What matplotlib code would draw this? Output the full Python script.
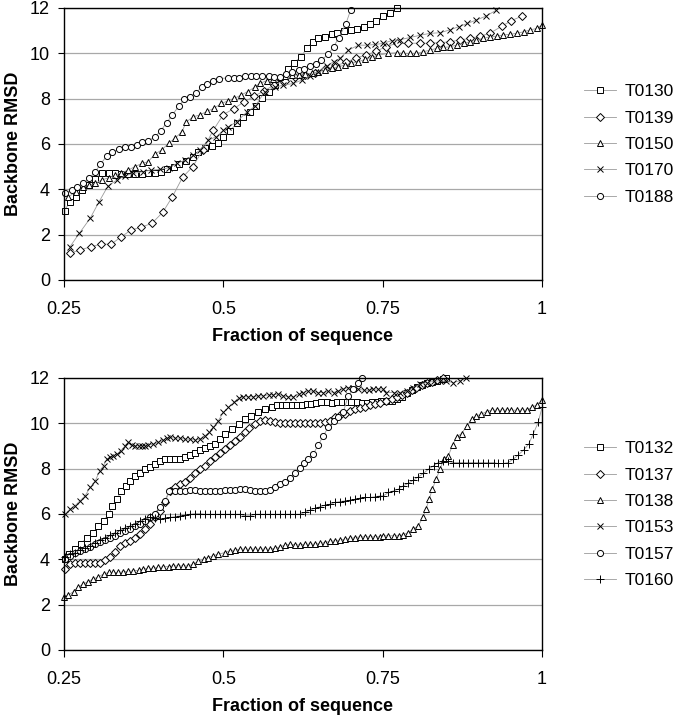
import matplotlib
matplotlib.use("Agg")
import matplotlib.pyplot as plt

plt.rcParams["font.family"] = ["Liberation Sans", "DejaVu Sans"]

# ---- top panel data (fraction of sequence, backbone RMSD) ----
t0130_x = [0.251, 0.259, 0.269, 0.279, 0.289, 0.299, 0.309, 0.320, 0.330, 0.340,
           0.351, 0.361, 0.372, 0.382, 0.392, 0.402, 0.411, 0.422, 0.431, 0.441,
           0.452, 0.461, 0.471, 0.482, 0.491, 0.500, 0.510, 0.521, 0.531, 0.542,
           0.551, 0.560, 0.571, 0.581, 0.590, 0.601, 0.611, 0.622, 0.631, 0.640,
           0.649, 0.659, 0.670, 0.679, 0.690, 0.700, 0.709, 0.720, 0.730, 0.740,
           0.751, 0.761, 0.772]
t0130_y = [3.06, 3.45, 3.67, 3.97, 4.2, 4.45, 4.73, 4.73, 4.7, 4.67,
           4.67, 4.67, 4.67, 4.7, 4.73, 4.78, 4.88, 5.0, 5.1, 5.26,
           5.44, 5.66, 5.84, 5.91, 6.06, 6.29, 6.57, 6.91, 7.2, 7.42,
           7.67, 8.01, 8.31, 8.6, 8.9, 9.29, 9.59, 9.85, 10.22, 10.51,
           10.66, 10.73, 10.84, 10.91, 10.98, 11.03, 11.06, 11.17, 11.29, 11.44,
           11.64, 11.8, 11.98]

t0139_x = [0.259, 0.275, 0.292, 0.308, 0.324, 0.339, 0.355, 0.371, 0.388, 0.405,
           0.420, 0.436, 0.452, 0.468, 0.484, 0.500, 0.516, 0.532, 0.548, 0.564,
           0.580, 0.596, 0.612, 0.628, 0.644, 0.660, 0.676, 0.692, 0.708, 0.724,
           0.740, 0.756, 0.772, 0.790, 0.808, 0.824, 0.840, 0.856, 0.871, 0.887,
           0.903, 0.918, 0.937, 0.952, 0.968]
t0139_y = [1.18, 1.32, 1.47, 1.58, 1.58, 1.89, 2.2, 2.33, 2.5, 2.99,
           3.67, 4.53, 5.0, 5.75, 6.6, 7.3, 7.55, 7.85, 8.1, 8.35,
           8.6, 8.8, 8.95, 9.05, 9.15, 9.3, 9.45, 9.6, 9.8, 9.92,
           10.1, 10.3, 10.44, 10.44, 10.45, 10.44, 10.47, 10.51, 10.59, 10.66,
           10.76, 10.88, 11.2, 11.44, 11.64]

t0150_x = [0.257, 0.269, 0.280, 0.290, 0.299, 0.309, 0.320, 0.330, 0.340, 0.351,
           0.361, 0.372, 0.382, 0.393, 0.403, 0.414, 0.424, 0.435, 0.442, 0.453,
           0.463, 0.475, 0.485, 0.497, 0.507, 0.517, 0.528, 0.538, 0.549, 0.557,
           0.568, 0.578, 0.589, 0.597, 0.607, 0.618, 0.628, 0.639, 0.649, 0.660,
           0.670, 0.680, 0.691, 0.701, 0.712, 0.722, 0.733, 0.743, 0.759, 0.772,
           0.782, 0.793, 0.803, 0.814, 0.824, 0.835, 0.845, 0.856, 0.866, 0.877,
           0.887, 0.897, 0.908, 0.918, 0.929, 0.939, 0.950, 0.960, 0.971, 0.981,
           0.992, 1.0]
t0150_y = [3.67, 3.9, 4.1, 4.19, 4.26, 4.41, 4.51, 4.63, 4.73, 4.85,
           5.0, 5.14, 5.22, 5.56, 5.73, 6.03, 6.25, 6.54, 6.98, 7.2,
           7.28, 7.45, 7.57, 7.79, 7.9, 8.01, 8.16, 8.31, 8.5, 8.67,
           8.79, 8.86, 8.94, 9.0, 9.04, 9.04, 9.09, 9.12, 9.19, 9.26,
           9.34, 9.41, 9.48, 9.56, 9.63, 9.73, 9.82, 9.92, 10.0, 10.03,
           10.0, 10.0, 10.0, 10.07, 10.14, 10.22, 10.26, 10.29, 10.36, 10.44,
           10.51, 10.59, 10.66, 10.73, 10.76, 10.81, 10.84, 10.88, 10.95, 11.03,
           11.1, 11.25]

t0170_x = [0.259, 0.274, 0.291, 0.305, 0.319, 0.333, 0.346, 0.359, 0.374, 0.387,
           0.401, 0.414, 0.427, 0.440, 0.453, 0.463, 0.476, 0.489, 0.500, 0.508,
           0.521, 0.537, 0.550, 0.565, 0.581, 0.594, 0.610, 0.623, 0.636, 0.649,
           0.662, 0.673, 0.683, 0.696, 0.712, 0.725, 0.738, 0.751, 0.764, 0.777,
           0.793, 0.809, 0.824, 0.840, 0.855, 0.869, 0.883, 0.897, 0.912, 0.928]
t0170_y = [1.45, 2.06, 2.72, 3.45, 4.15, 4.41, 4.6, 4.7, 4.78, 4.85,
           4.88, 4.95, 5.14, 5.29, 5.51, 5.73, 6.17, 6.32, 6.6, 6.76,
           6.98, 7.42, 7.67, 8.31, 8.5, 8.6, 8.67, 8.82, 9.0, 9.19,
           9.44, 9.63, 9.78, 10.14, 10.36, 10.36, 10.39, 10.44, 10.56, 10.6,
           10.7, 10.8, 10.88, 10.91, 11.03, 11.17, 11.32, 11.47, 11.64, 11.9]

t0188_x = [0.2515, 0.262, 0.271, 0.280, 0.290, 0.299, 0.307, 0.317, 0.326, 0.336,
           0.346, 0.355, 0.364, 0.373, 0.382, 0.393, 0.402, 0.411, 0.420, 0.430,
           0.439, 0.448, 0.457, 0.466, 0.475, 0.484, 0.493, 0.507, 0.516, 0.525,
           0.534, 0.543, 0.552, 0.561, 0.571, 0.580, 0.589, 0.598, 0.608, 0.618,
           0.627, 0.636, 0.645, 0.654, 0.664, 0.673, 0.681, 0.692, 0.700]
t0188_y = [3.85, 3.97, 4.1, 4.26, 4.48, 4.78, 5.1, 5.47, 5.66, 5.76,
           5.85, 5.88, 5.95, 6.07, 6.14, 6.32, 6.59, 6.94, 7.28, 7.67,
           7.97, 8.09, 8.26, 8.5, 8.64, 8.78, 8.88, 8.92, 8.92, 8.92,
           9.0, 9.0, 9.0, 9.0, 9.0, 8.97, 8.97, 9.09, 9.17, 9.26,
           9.33, 9.45, 9.55, 9.7, 9.95, 10.28, 10.69, 11.28, 11.93]

# ---- bottom panel data ----
t0132_x = [0.2515, 0.258, 0.267, 0.276, 0.286, 0.296, 0.304, 0.312, 0.320, 0.326,
           0.333, 0.340, 0.347, 0.353, 0.361, 0.369, 0.377, 0.385, 0.393, 0.401,
           0.408, 0.416, 0.424, 0.432, 0.440, 0.448, 0.456, 0.463, 0.471, 0.479,
           0.487, 0.495, 0.503, 0.513, 0.524, 0.534, 0.544, 0.555, 0.565, 0.576,
           0.584, 0.592, 0.599, 0.607, 0.615, 0.623, 0.631, 0.638, 0.646, 0.654,
           0.662, 0.670, 0.678, 0.686, 0.694, 0.701, 0.709, 0.717, 0.725, 0.733,
           0.741, 0.748, 0.756, 0.764, 0.772, 0.780, 0.788, 0.796, 0.804, 0.812,
           0.820, 0.828, 0.836, 0.844, 0.850]
t0132_y = [4.01, 4.23, 4.45, 4.67, 4.96, 5.18, 5.48, 5.7, 5.99, 6.36,
           6.65, 7.02, 7.24, 7.46, 7.68, 7.83, 7.98, 8.08, 8.2, 8.32,
           8.42, 8.42, 8.42, 8.42, 8.52, 8.61, 8.7, 8.82, 8.91, 9.01,
           9.11, 9.3, 9.52, 9.74, 9.96, 10.18, 10.33, 10.48, 10.63, 10.7,
           10.82, 10.82, 10.82, 10.82, 10.82, 10.82, 10.85, 10.85, 10.88, 10.92,
           10.92, 10.88, 10.92, 10.92, 10.96, 10.92, 10.92, 10.88, 10.88, 10.92,
           10.96, 10.99, 10.99, 11.0, 11.08, 11.18, 11.33, 11.48, 11.6, 11.7,
           11.77, 11.83, 11.88, 11.94, 12.0]

t0137_x = [0.2515, 0.259, 0.267, 0.275, 0.283, 0.291, 0.299, 0.306, 0.314, 0.322,
           0.330, 0.338, 0.346, 0.354, 0.361, 0.369, 0.377, 0.385, 0.393, 0.401,
           0.408, 0.416, 0.424, 0.432, 0.440, 0.448, 0.456, 0.463, 0.471, 0.479,
           0.487, 0.494, 0.502, 0.510, 0.518, 0.526, 0.534, 0.541, 0.549, 0.557,
           0.565, 0.573, 0.581, 0.589, 0.597, 0.605, 0.612, 0.620, 0.628, 0.636,
           0.644, 0.652, 0.659, 0.667, 0.675, 0.683, 0.691, 0.699, 0.707, 0.714,
           0.722, 0.730, 0.738, 0.746, 0.756, 0.764, 0.772, 0.780, 0.788, 0.796,
           0.803, 0.811, 0.819, 0.827, 0.835, 0.845]
t0137_y = [3.57, 3.79, 3.86, 3.83, 3.82, 3.82, 3.82, 3.86, 3.96, 4.11,
           4.33, 4.6, 4.74, 4.82, 4.93, 5.11, 5.33, 5.55, 5.85, 6.14,
           6.51, 7.02, 7.17, 7.32, 7.43, 7.61, 7.79, 7.98, 8.13, 8.32,
           8.52, 8.71, 8.86, 9.05, 9.2, 9.4, 9.62, 9.8, 9.98, 10.1,
           10.15, 10.1, 10.05, 10.02, 10.0, 10.0, 10.0, 10.0, 10.0, 10.0,
           10.02, 10.02, 10.05, 10.1, 10.26, 10.35, 10.43, 10.53, 10.63, 10.68,
           10.73, 10.8, 10.85, 10.9, 11.0, 11.07, 11.14, 11.25, 11.36, 11.47,
           11.58, 11.67, 11.76, 11.83, 11.9, 12.0]

t0138_x = [0.250, 0.257, 0.265, 0.272, 0.280, 0.288, 0.296, 0.304, 0.312, 0.320,
           0.327, 0.335, 0.343, 0.351, 0.359, 0.367, 0.374, 0.382, 0.390, 0.398,
           0.406, 0.414, 0.421, 0.429, 0.437, 0.445, 0.453, 0.461, 0.469, 0.476,
           0.484, 0.492, 0.503, 0.510, 0.518, 0.526, 0.534, 0.542, 0.550, 0.558,
           0.565, 0.573, 0.581, 0.589, 0.597, 0.605, 0.612, 0.620, 0.628, 0.636,
           0.644, 0.652, 0.659, 0.667, 0.675, 0.683, 0.691, 0.699, 0.707, 0.714,
           0.722, 0.730, 0.738, 0.746, 0.751, 0.759, 0.767, 0.775, 0.782, 0.790,
           0.798, 0.806, 0.813, 0.818, 0.823, 0.828, 0.834, 0.840, 0.846, 0.853,
           0.860, 0.866, 0.874, 0.882, 0.890, 0.897, 0.905, 0.913, 0.921, 0.929,
           0.937, 0.945, 0.952, 0.960, 0.968, 0.976, 0.984, 0.992, 1.0]
t0138_y = [2.35, 2.43, 2.58, 2.76, 2.91, 3.02, 3.13, 3.23, 3.35, 3.42,
           3.42, 3.42, 3.45, 3.47, 3.49, 3.52, 3.57, 3.6, 3.61, 3.64,
           3.67, 3.68, 3.71, 3.71, 3.71, 3.71, 3.79, 3.91, 4.01, 4.08,
           4.16, 4.23, 4.3, 4.38, 4.41, 4.45, 4.45, 4.45, 4.45, 4.45,
           4.45, 4.45, 4.49, 4.55, 4.64, 4.67, 4.64, 4.64, 4.67, 4.67,
           4.67, 4.7, 4.74, 4.79, 4.82, 4.85, 4.89, 4.92, 4.96, 4.99,
           4.99, 4.99, 4.99, 4.99, 5.04, 5.04, 5.04, 5.04, 5.08, 5.18,
           5.33, 5.48, 5.85, 6.21, 6.65, 7.1, 7.54, 7.98, 8.42, 8.57,
           9.05, 9.41, 9.55, 9.89, 10.18, 10.33, 10.4, 10.52, 10.58, 10.58,
           10.58, 10.58, 10.58, 10.58, 10.58, 10.58, 10.7, 10.82, 11.02]

t0153_x = [0.2515, 0.259, 0.267, 0.275, 0.283, 0.291, 0.299, 0.306, 0.312, 0.317,
           0.322, 0.327, 0.333, 0.339, 0.346, 0.351, 0.356, 0.361, 0.367, 0.372,
           0.377, 0.382, 0.390, 0.398, 0.406, 0.411, 0.416, 0.424, 0.432, 0.440,
           0.448, 0.456, 0.463, 0.471, 0.478, 0.484, 0.492, 0.500, 0.508, 0.516,
           0.524, 0.531, 0.539, 0.547, 0.555, 0.563, 0.571, 0.578, 0.586, 0.594,
           0.602, 0.610, 0.618, 0.625, 0.633, 0.641, 0.649, 0.657, 0.665, 0.673,
           0.680, 0.688, 0.696, 0.704, 0.712, 0.720, 0.728, 0.735, 0.743, 0.751,
           0.756, 0.767, 0.777, 0.788, 0.798, 0.809, 0.819, 0.830, 0.840, 0.850,
           0.861, 0.871, 0.881]
t0153_y = [5.99, 6.21, 6.36, 6.58, 6.8, 7.17, 7.46, 7.9, 8.13, 8.42,
           8.5, 8.57, 8.64, 8.79, 9.01, 9.16, 9.05, 9.01, 9.01, 9.01,
           9.01, 9.05, 9.08, 9.16, 9.26, 9.35, 9.38, 9.35, 9.35, 9.3,
           9.3, 9.26, 9.3, 9.45, 9.6, 9.82, 10.11, 10.48, 10.7, 10.92,
           11.11, 11.17, 11.17, 11.17, 11.21, 11.21, 11.26, 11.26, 11.29, 11.21,
           11.17, 11.17, 11.29, 11.36, 11.43, 11.41, 11.36, 11.36, 11.41, 11.36,
           11.43, 11.51, 11.58, 11.55, 11.51, 11.46, 11.46, 11.51, 11.51, 11.51,
           11.36, 11.36, 11.36, 11.43, 11.58, 11.73, 11.8, 11.85, 11.88, 11.85,
           11.8, 11.88, 12.0]

t0157_x = [0.2515, 0.259, 0.267, 0.275, 0.283, 0.291, 0.299, 0.306, 0.314, 0.322,
           0.330, 0.338, 0.346, 0.354, 0.361, 0.369, 0.377, 0.385, 0.393, 0.401,
           0.408, 0.415, 0.424, 0.432, 0.440, 0.448, 0.456, 0.463, 0.471, 0.479,
           0.487, 0.495, 0.503, 0.510, 0.518, 0.526, 0.534, 0.542, 0.550, 0.558,
           0.565, 0.573, 0.581, 0.589, 0.597, 0.605, 0.612, 0.620, 0.627, 0.633,
           0.641, 0.649, 0.657, 0.665, 0.673, 0.680, 0.688, 0.696, 0.704, 0.712,
           0.717]
t0157_y = [4.01, 4.16, 4.26, 4.38, 4.45, 4.55, 4.67, 4.77, 4.85, 4.93,
           5.04, 5.14, 5.26, 5.33, 5.48, 5.58, 5.7, 5.85, 5.99, 6.29,
           6.58, 7.0, 7.02, 7.02, 7.02, 7.05, 7.05, 7.02, 7.02, 7.0,
           7.0, 7.02, 7.05, 7.05, 7.05, 7.1, 7.1, 7.05, 7.02, 7.0,
           7.0, 7.05, 7.17, 7.32, 7.43, 7.58, 7.79, 8.02, 8.23, 8.42,
           8.64, 9.05, 9.45, 9.85, 10.11, 10.29, 10.48, 11.21, 11.51, 11.8,
           12.0]

t0160_x = [0.2515, 0.259, 0.267, 0.275, 0.283, 0.291, 0.299, 0.306, 0.314, 0.322,
           0.330, 0.338, 0.346, 0.354, 0.361, 0.369, 0.377, 0.385, 0.393, 0.401,
           0.408, 0.416, 0.424, 0.432, 0.440, 0.448, 0.456, 0.463, 0.471, 0.479,
           0.487, 0.495, 0.503, 0.510, 0.518, 0.526, 0.534, 0.542, 0.550, 0.558,
           0.565, 0.573, 0.581, 0.589, 0.597, 0.605, 0.612, 0.620, 0.628, 0.636,
           0.644, 0.652, 0.659, 0.667, 0.675, 0.683, 0.691, 0.699, 0.707, 0.714,
           0.722, 0.730, 0.738, 0.746, 0.751, 0.759, 0.767, 0.775, 0.782, 0.790,
           0.798, 0.806, 0.814, 0.822, 0.830, 0.837, 0.845, 0.853, 0.861, 0.869,
           0.876, 0.884, 0.892, 0.900, 0.908, 0.916, 0.924, 0.931, 0.939, 0.947,
           0.955, 0.963, 0.971, 0.979, 0.986, 0.994, 1.0]
t0160_y = [4.11, 4.23, 4.3, 4.41, 4.52, 4.6, 4.74, 4.85, 4.96, 5.07,
           5.18, 5.29, 5.4, 5.48, 5.58, 5.7, 5.77, 5.85, 5.82, 5.77,
           5.82, 5.85, 5.88, 5.92, 5.96, 5.99, 6.02, 6.02, 5.99, 5.99,
           5.99, 5.99, 5.99, 5.99, 5.99, 5.99, 5.92, 5.92, 5.99, 5.99,
           5.99, 5.99, 5.99, 5.99, 5.99, 5.99, 5.99, 5.99, 6.07, 6.17,
           6.26, 6.32, 6.39, 6.43, 6.51, 6.55, 6.58, 6.61, 6.65, 6.7,
           6.73, 6.73, 6.76, 6.8, 6.8, 6.95, 7.02, 7.1, 7.24, 7.35,
           7.49, 7.64, 7.79, 7.98, 8.13, 8.27, 8.32, 8.32, 8.27, 8.27,
           8.27, 8.27, 8.27, 8.27, 8.27, 8.27, 8.27, 8.23, 8.23, 8.27,
           8.42, 8.61, 8.82, 9.08, 9.52, 10.04, 10.7]

top_series = [
    ("T0130", t0130_x, t0130_y, "s", 4.0),
    ("T0139", t0139_x, t0139_y, "D", 3.6),
    ("T0150", t0150_x, t0150_y, "^", 4.6),
    ("T0170", t0170_x, t0170_y, "x", 5.0),
    ("T0188", t0188_x, t0188_y, "o", 4.4),
]
bottom_series = [
    ("T0132", t0132_x, t0132_y, "s", 4.0),
    ("T0137", t0137_x, t0137_y, "D", 3.6),
    ("T0138", t0138_x, t0138_y, "^", 4.6),
    ("T0153", t0153_x, t0153_y, "x", 5.0),
    ("T0157", t0157_x, t0157_y, "o", 4.4),
    ("T0160", t0160_x, t0160_y, "+", 6.0),
]

x_ticks = [0.25, 0.5, 0.75, 1.0]
x_tick_labels = ["0.25", "0.5", "0.75", "1"]
y_ticks = [0, 2, 4, 6, 8, 10, 12]

W, H = 676, 720
fig = plt.figure(figsize=(W / 100, H / 100), dpi=100)


def draw_panel(rect, series, legend_top):
    ax = fig.add_axes(rect)
    for name, xs, ys, mk, ms in series:
        ax.plot(xs, ys, color="#9a9a9a", lw=0.6, marker=mk, ms=ms,
                mfc="white", mec="black", mew=0.7, label=name, clip_on=False)
    ax.set_xlim(0.25, 1.0)
    ax.set_ylim(0, 12)
    ax.set_xticks(x_ticks)
    ax.set_xticklabels(x_tick_labels)
    ax.set_yticks(y_ticks)
    ax.yaxis.grid(True, color="#a8a8a8", lw=0.9)
    ax.set_axisbelow(True)
    for sp in ax.spines.values():
        sp.set_color("black")
        sp.set_linewidth(1.0)
    ax.tick_params(axis="x", direction="out", length=5, width=0.8,
                   labelsize=13, pad=10)
    ax.tick_params(axis="y", direction="out", length=4, width=0.8,
                   labelsize=13, pad=6)
    ax.set_xlabel("Fraction of sequence", fontsize=13, fontweight="bold")
    ax.xaxis.set_label_coords(0.5, -0.175)
    ax.set_ylabel("Backbone RMSD", fontsize=13, fontweight="bold")
    ax.yaxis.set_label_coords(-0.088, 0.5)
    ax.legend(loc="upper left", bbox_to_anchor=(584 / W, 1 - legend_top / H),
              bbox_transform=fig.transFigure, frameon=False, fontsize=12.5,
              numpoints=1, handlelength=1.85, handletextpad=0.5,
              labelspacing=0.65, borderpad=0, borderaxespad=0)
    return ax


draw_panel([64 / W, 1 - 280 / H, 478 / W, 272 / H], top_series, 84)
draw_panel([64 / W, 1 - 650 / H, 478 / W, 272 / H], bottom_series, 441)

fig.savefig("out.png", dpi=100)
